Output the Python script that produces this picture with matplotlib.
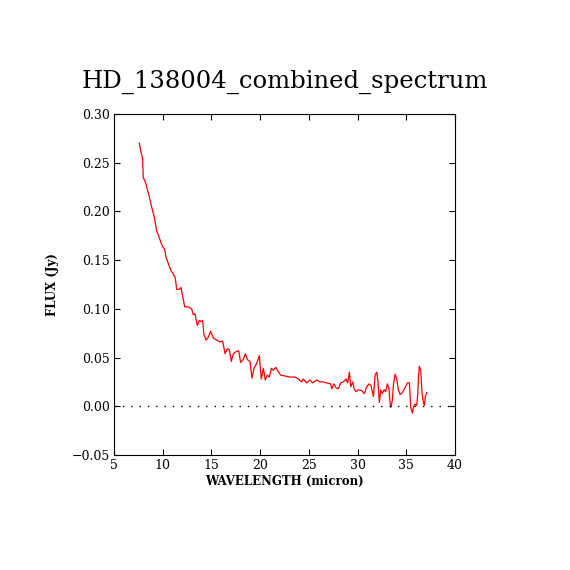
import matplotlib
matplotlib.use("Agg")
import matplotlib.pyplot as plt

# Spectrum (wavelength in micron, flux in Jy)
wavelength = [
    7.60, 7.77, 7.94, 8.00, 8.22, 8.46, 8.63, 8.83, 9.14, 9.38, 9.65, 9.93,
    10.20, 10.34, 10.60, 10.85, 11.09, 11.30, 11.43, 11.70, 11.87, 12.05,
    12.26, 12.63, 12.97, 13.14, 13.31, 13.55, 13.76, 13.90, 14.10, 14.24,
    14.45, 14.68, 14.92, 15.20, 15.54, 15.88, 16.15, 16.40, 16.63, 16.84,
    17.04, 17.25, 17.52, 17.80, 18.00, 18.27, 18.48, 18.68, 18.96, 19.16,
    19.37, 19.64, 19.92, 20.12, 20.33, 20.53, 20.74, 20.95, 21.15, 21.36,
    21.60, 21.84, 22.10, 22.56, 23.07, 23.59, 23.93, 24.26, 24.43, 24.77,
    25.12, 25.39, 25.80, 26.14, 26.49, 26.83, 27.24, 27.34, 27.58, 27.79,
    28.03, 28.27, 28.54, 28.82, 28.99, 29.16, 29.30, 29.50, 29.64, 29.85,
    30.09, 30.43, 30.70, 30.94, 31.18, 31.39, 31.63, 31.80, 31.97, 32.10,
    32.24, 32.38, 32.55, 32.72, 32.89, 33.06, 33.23, 33.34, 33.44, 33.58,
    33.68, 33.85, 34.02, 34.19, 34.36, 34.53, 34.77, 34.98, 35.11, 35.32,
    35.46, 35.63, 35.73, 35.87, 36.07, 36.18, 36.25, 36.35, 36.49, 36.62,
    36.76, 36.86, 36.96, 37.10,
]
flux = [
    0.270, 0.261, 0.254, 0.235, 0.230, 0.221, 0.215, 0.206, 0.194, 0.180,
    0.173, 0.165, 0.161, 0.153, 0.146, 0.139, 0.136, 0.131, 0.120, 0.120,
    0.122, 0.113, 0.102, 0.102, 0.100, 0.094, 0.095, 0.083, 0.088, 0.087,
    0.088, 0.073, 0.068, 0.071, 0.077, 0.070, 0.068, 0.066, 0.067, 0.054,
    0.059, 0.058, 0.046, 0.054, 0.056, 0.057, 0.045, 0.048, 0.054, 0.048,
    0.046, 0.029, 0.039, 0.044, 0.052, 0.028, 0.039, 0.027, 0.032, 0.030,
    0.039, 0.037, 0.040, 0.036, 0.032, 0.031, 0.030, 0.030, 0.028, 0.025,
    0.028, 0.024, 0.027, 0.024, 0.027, 0.025, 0.025, 0.024, 0.023, 0.018,
    0.023, 0.019, 0.018, 0.024, 0.025, 0.028, 0.024, 0.035, 0.020, 0.025,
    0.018, 0.015, 0.017, 0.016, 0.013, 0.020, 0.023, 0.021, 0.010, 0.032,
    0.035, 0.025, 0.004, 0.017, 0.013, 0.017, 0.015, 0.023, 0.018, 0.003,
    -0.001, 0.007, 0.022, 0.033, 0.028, 0.017, 0.012, 0.013, 0.017, 0.021,
    0.024, 0.024, -0.001, -0.007, -0.001, 0.002, 0.001, 0.012, 0.030, 0.041,
    0.036, 0.013, 0.004, 0.001, 0.010, 0.014,
]

x_ticks = [5, 10, 15, 20, 25, 30, 35, 40]
y_ticks = [-0.05, 0.00, 0.05, 0.10, 0.15, 0.20, 0.25, 0.30]

plt.rcParams["font.family"] = ["DejaVu Serif"]

fig = plt.figure(figsize=(5.7, 5.7), dpi=100)
ax = fig.add_axes([0.2, 0.2018, 0.5982, 0.5982])

ax.plot(wavelength, flux, color="red", linewidth=0.9)
ax.axhline(0, color="black", linewidth=1.0, linestyle=(0, (1, 5)))

ax.set_xlim(5, 40)
ax.set_ylim(-0.05, 0.30)
ax.set_xticks(x_ticks)
ax.set_yticks(y_ticks)
ax.set_xticklabels([str(t) for t in x_ticks])
ax.set_yticklabels(["\u22120.05"] + [f"{t:.2f}" for t in y_ticks[1:]])
ax.tick_params(direction="in", length=4.5, width=0.8, top=True, right=True,
               labelsize=9, pad=3)
for s in ax.spines.values():
    s.set_linewidth(0.8)

ax.set_xlabel("WAVELENGTH (micron)", fontsize=8.5, fontweight="bold", labelpad=2)
ax.set_ylabel("FLUX (Jy)", fontsize=8.5, fontweight="bold", labelpad=9)
ax.set_title("HD_138004_combined_spectrum", fontsize=17.5, pad=19)

fig.savefig("out.png", dpi=100)
